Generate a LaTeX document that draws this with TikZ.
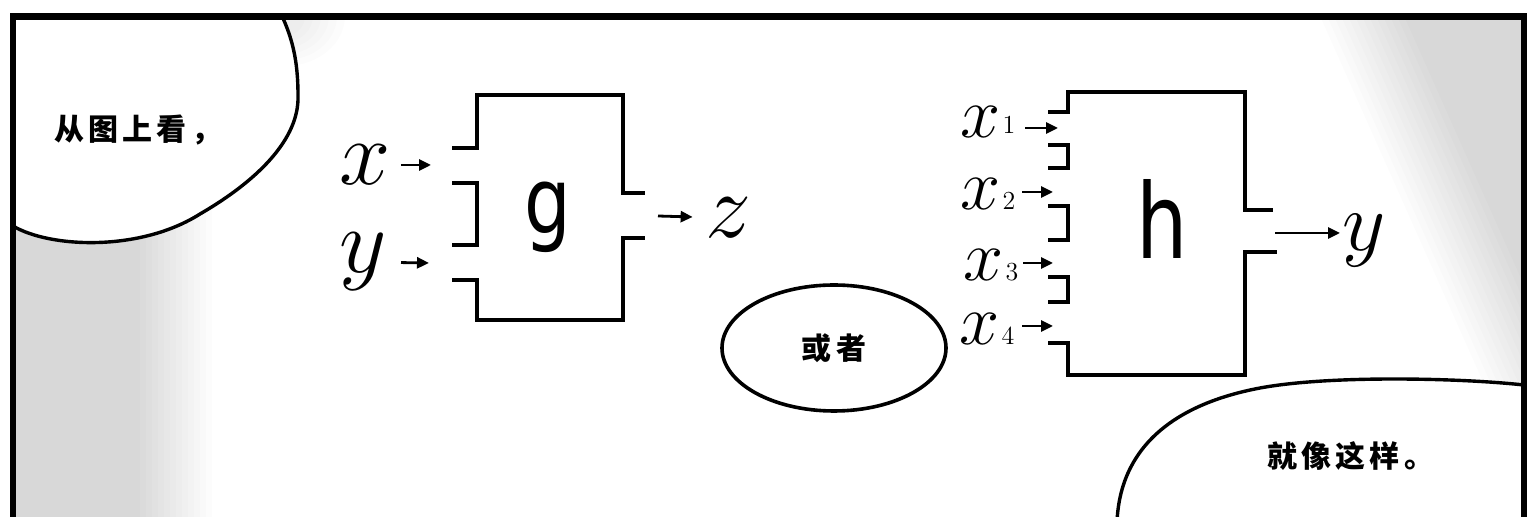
\RequirePackage{fix-cm}
\documentclass[tikz,border=0pt]{standalone}
\usepackage{fontspec}
\usetikzlibrary{arrows.meta,shapes.geometric}
\newfontfamily\cjk{Noto Sans CJK SC}[LetterSpace=14]
\newfontfamily\hand{DejaVu Sans}
\begin{document}
\begin{tikzpicture}[x=0.5pt,y=-0.5pt,
  box/.style={line width=2pt, line join=miter},
  arr/.style={line width=1.4pt, -{Triangle[length=6pt,width=5.5pt]}},
  bubble/.style={fill=white, draw=black, line width=1.7pt},
  cjktext/.style={font=\cjk\bfseries\fontsize{15}{18}\selectfont, inner sep=0pt},
  var/.style={font=\fontsize{46}{50}\selectfont, inner sep=0pt},
  subvar/.style={font=\fontsize{36}{40}\selectfont, inner sep=0pt},
  fn/.style={font=\hand, inner sep=0pt},
  dots/.style={fill=black, opacity=0.013}]
\useasboundingbox (0,0) rectangle (1528,517);
\fill[white] (0,0) rectangle (1528,517);
% halftone-like shading, built up from faint layers
\begin{scope}
  \clip (13,16) rectangle (1524,517);
  \foreach \k in {0,...,12}{
    \fill[dots] ({1320+7*\k},16) -- ({1500+7*\k},420) -- (1530,420) -- (1530,16) -- cycle;
    \fill[dots] (13,150) rectangle ({212-6*\k},517);
  }
  \foreach \k in {0,...,5}{
    \fill[dots] (285,16) ellipse [x radius={60-8*\k}, y radius={50-6*\k}];
  }
\end{scope}
% bubbles
\filldraw[bubble] (13,226) .. controls (50,248) and (140,252) .. (200,214)
  .. controls (245,188) and (300,145) .. (298,95)
  .. controls (298,60) and (292,38) .. (282,16) -- (13,16) -- cycle;
\node[cjktext, anchor=west] (t1) at (54,130) {从图上看，};
\filldraw[bubble] (1524,385) .. controls (1460,378) and (1330,375) .. (1260,388)
  .. controls (1170,405) and (1120,450) .. (1117,522) -- (1524,522) -- cycle;
\node[cjktext, anchor=west] (t3) at (1267,456) {就像这样。};
\node[cjktext, draw, ellipse, line width=1.8pt, minimum width=112pt, minimum height=63pt, fill=white] (or) at (834,348) {或者};
% frame
\draw[line width=3.2pt, line join=miter] (13,525) -- (13,16.5) -- (1524,16.5) -- (1524,525);
% box g
\draw[box] (452,148) -- (477,148) -- (477,95) -- (623,95) -- (623,193) -- (645,193);
\draw[box] (452,183) -- (477,183) -- (477,245) -- (452,245);
\draw[box] (452,280) -- (477,280) -- (477,320) -- (623,320) -- (623,238) -- (645,238);
\node[fn, font=\hand\fontsize{46}{50}\selectfont] (g) at (548,217) {\scalebox{0.8}[1]{g}};
\node[var] (x) at (365,165) {$x$};
\node[var] (y) at (363,262) {$y$};
\node[var] (z) at (728,218) {$z$};
\coordinate (gx) at (431,165);
\coordinate (gy) at (429,263);
\coordinate (gz) at (658,216);
\draw[arr, shorten <=5pt] (x) -- (gx);
\draw[arr, shorten <=7pt] (y) -- (gy);
\draw[arr, shorten >=6pt] (gz) -- (z);
% box h
\draw[box] (1048,112) -- (1068,112) -- (1068,92) -- (1245,92) -- (1245,210) -- (1273,210);
\draw[box] (1048,145) -- (1068,145) -- (1068,168) -- (1048,168);
\draw[box] (1048,206) -- (1068,206) -- (1068,240) -- (1048,240);
\draw[box] (1048,277) -- (1068,277) -- (1068,302) -- (1048,302);
\draw[box] (1048,343) -- (1068,343) -- (1068,375) -- (1245,375) -- (1245,252) -- (1277,252);
\node[fn, font=\hand\fontsize{52}{56}\selectfont] (h) at (1162,219) {\scalebox{0.78}[1]{h}};
\node[subvar] (x1) at (988,122) {$x$\kern1pt\raisebox{2pt}{\fontsize{13}{13}\selectfont 1}};
\node[subvar] (x2) at (988,194) {$x$\kern1pt{\fontsize{13}{13}\selectfont 2}};
\node[subvar] (x3) at (991,265) {$x$\kern1pt{\fontsize{13}{13}\selectfont 3}};
\node[subvar] (x4) at (987,329) {$x$\kern1pt{\fontsize{13}{13}\selectfont 4}};
\coordinate (h1a) at (1025,128); \coordinate (h1b) at (1058,128);
\coordinate (h2a) at (1022,192); \coordinate (h2b) at (1053,192);
\coordinate (h3a) at (1023,263); \coordinate (h3b) at (1053,263);
\coordinate (h4a) at (1022,326); \coordinate (h4b) at (1053,326);
\draw[arr] (h1a) -- (h1b);
\draw[arr] (h2a) -- (h2b);
\draw[arr] (h3a) -- (h3b);
\draw[arr] (h4a) -- (h4b);
\node[var, font=\fontsize{42}{46}\selectfont] (yo) at (1364,241) {$y$};
\coordinate (hy) at (1275,233);
\draw[arr, shorten >=12pt] (hy) -- (hy -| yo);
\end{tikzpicture}
\end{document}
